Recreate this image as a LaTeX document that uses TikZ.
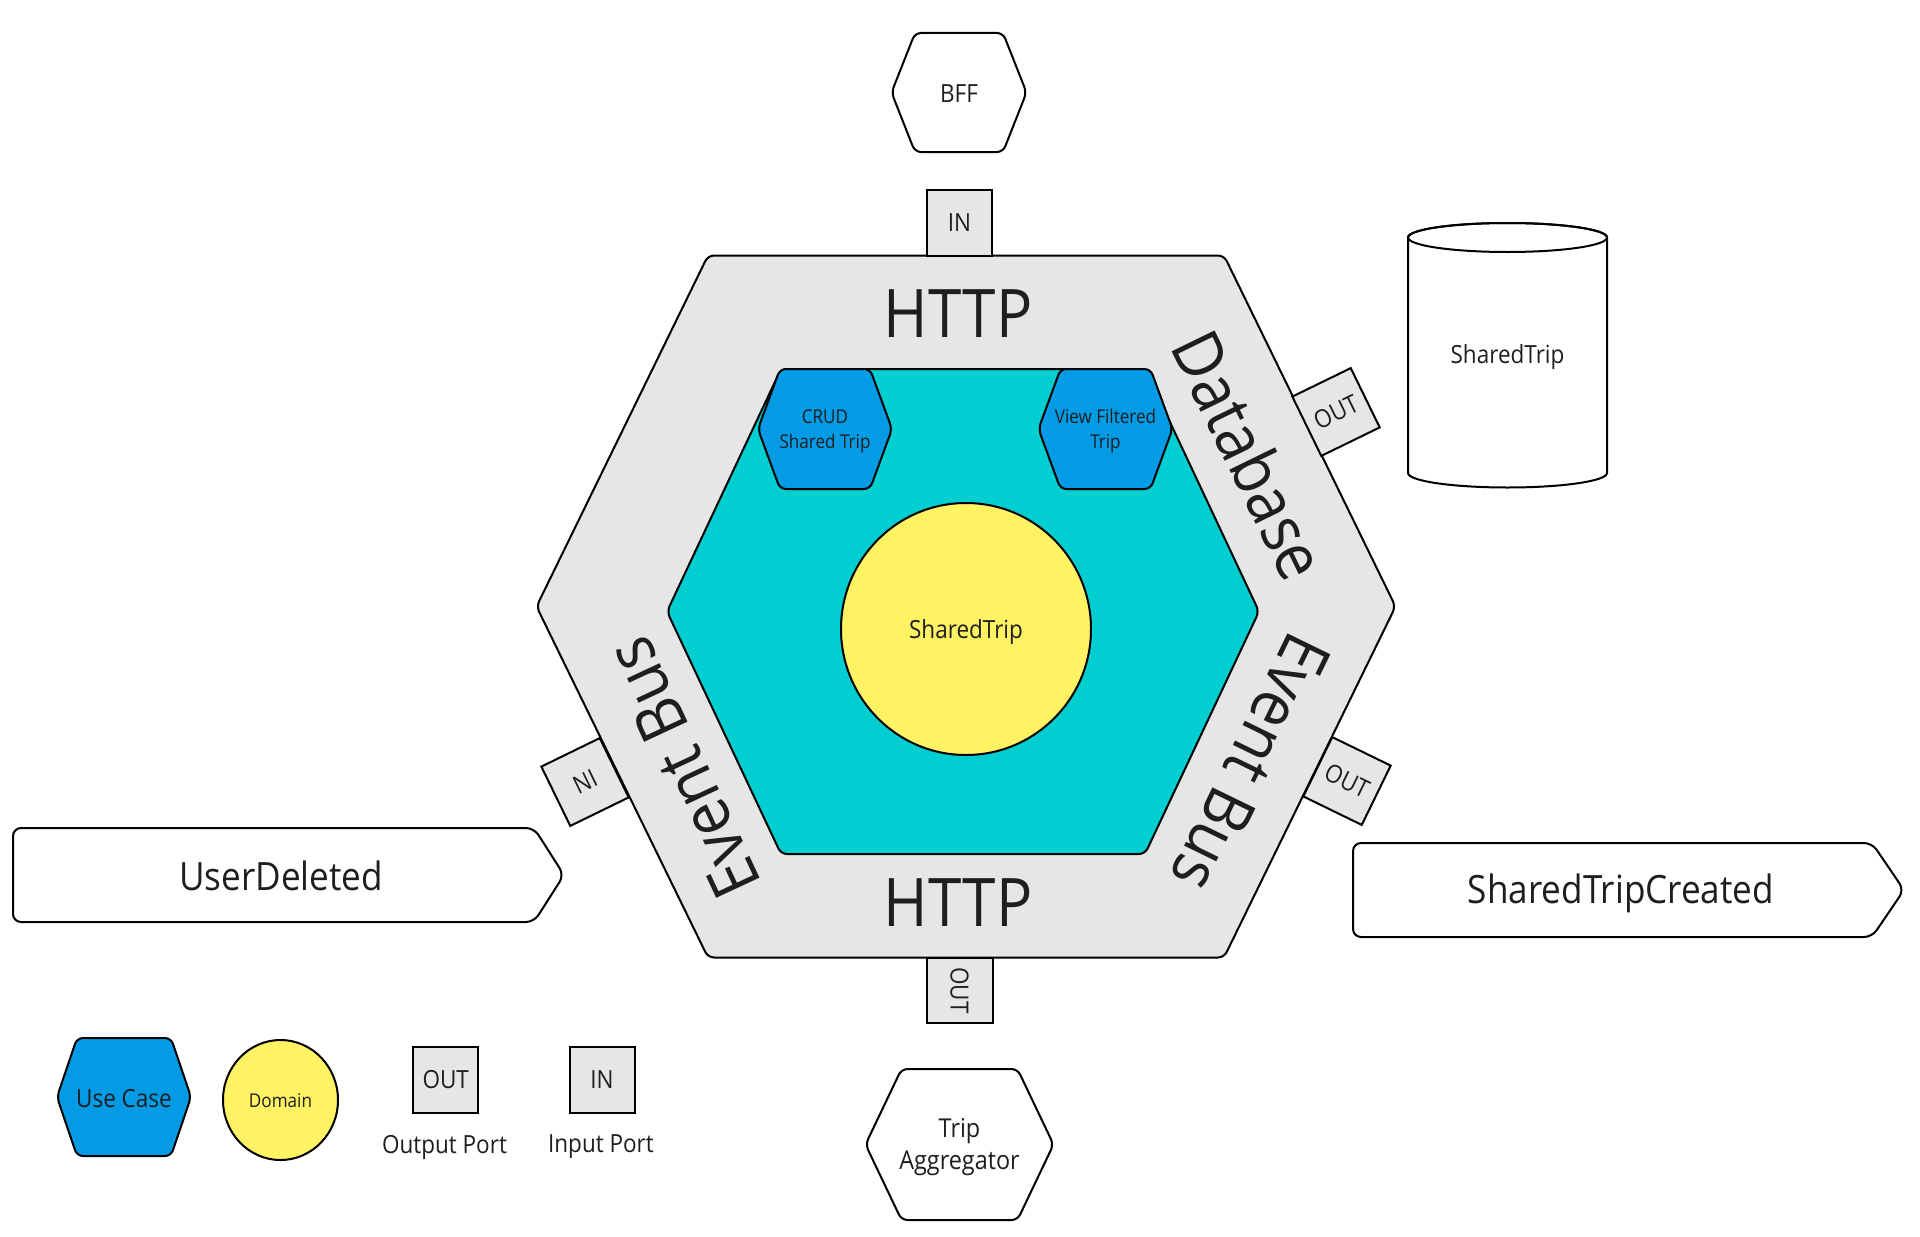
\documentclass[tikz,border=0pt]{standalone}
\usepackage{fontspec}
\setmainfont{Open Sans}[FakeStretch=0.9]
\definecolor{portgray}{HTML}{E6E6E6}
\definecolor{tealc}{HTML}{00CED1}
\definecolor{ucblue}{HTML}{039BE5}
\definecolor{domyellow}{HTML}{FFF263}
\definecolor{txt}{HTML}{1E1E1E}
\newcommand{\hexat}[6]{%
  \path[#1] ({#2-#4},{#3}) -- ({#2-#5},{#3-#6}) -- ({#2+#5},{#3-#6}) -- ({#2+#4},{#3}) -- ({#2+#5},{#3+#6}) -- ({#2-#5},{#3+#6}) -- cycle;}
\tikzset{
  outl/.style={draw=black, line width=1pt, line join=round, rounded corners=3pt},
  port/.style={draw=black, line width=1pt, fill=portgray, minimum width=32.5pt, minimum height=33pt, inner sep=0pt, font=\fontsize{12.5}{15}\selectfont, text=txt},
  big/.style={font=\fontsize{33.5}{40}\selectfont, text=txt, inner sep=0pt},
  evt/.style={font=\fontsize{19.5}{23}\selectfont, text=txt, inner sep=0pt},
  norm/.style={font=\fontsize{12.5}{16}\selectfont, text=txt, inner sep=0pt, align=center},
  small/.style={font=\fontsize{9.5}{12.5}\selectfont, text=txt, inner sep=0pt, align=center},
}
\begin{document}
\begin{tikzpicture}[x=0.5pt, y=-0.5pt]
\useasboundingbox[fill=white] (0,0) rectangle (1920,1236);

% outer hexagon and inner hexagon
\hexat{outl, fill=portgray}{966}{606.5}{429.5}{258}{351}
\hexat{outl, fill=tealc}{963}{611.5}{296}{182}{242.5}

% use cases
\hexat{outl, fill=ucblue}{825}{429}{67}{45}{60}
\hexat{outl, fill=ucblue}{1105.5}{429}{67}{45}{60}
\node[small] (crud) at (825,431) {CRUD\\Shared Trip};
\node[small] (viewf) at (1105.5,431) {View Filtered\\Trip};

% domain
\draw[line width=1pt, fill=domyellow] (966,629) ellipse [x radius=125, y radius=126];
\node[norm] (dom) at (966,632) {SharedTrip};

% layer labels
\node[big] (httpt) at (958,314) {HTTP};
\node[big] (httpb) at (958,903) {HTTP};
\node[big, rotate=-64] (db) at (1250,455) {Database};
\node[big, rotate=-116] (ebr) at (1251,763) {Event Bus};
\node[big, rotate=115] (ebl) at (683,768) {Event Bus};

% ports
\node[port] (pin) at (959.5,223) {IN};
\node[port, rotate=-90] (pout) at (959.5,990.5) {OUT};
\node[port, rotate=26] (pdb) at (1336,412) {OUT};
\node[port, rotate=-26] (pev) at (1347,781) {OUT};
\node[port, rotate=206] (pevin) at (585,782) {IN};

% external actors
\hexat{outl, fill=white}{959}{92.5}{67.5}{44}{59.5}
\node[norm] (bff) at (959,93.5) {BFF};
\hexat{outl, fill=white}{959.5}{1144.5}{94}{58}{75.5}
\node[norm, font=\fontsize{13}{16}\selectfont] (agg) at (959.5,1147) {Trip\\Aggregator};

% database cylinder
\path[draw=black, line width=1pt, fill=white] (1408,237.5) -- (1408,473) arc[start angle=180, end angle=360, x radius=99.5, y radius=-14.5] -- (1607,237.5) arc[start angle=0, end angle=180, x radius=99.5, y radius=-14.5] -- cycle;
\draw[line width=1pt] (1507.5,237.5) ellipse [x radius=99.5, y radius=14.5];
\node[norm] (dbs) at (1507.5,357) {SharedTrip};

% events
\path[draw=black, line width=1pt, rounded corners=4pt, fill=white] (13,828) -- (534,828) -- (564,875) -- (534,922) -- (13,922) -- cycle;
\node[evt] (ud) at (281,876) {UserDeleted};
\path[draw=black, line width=1pt, rounded corners=4pt, fill=white] (1353,843) -- (1872,843) -- (1904,890) -- (1872,937) -- (1353,937) -- cycle;
\node[evt] (stc) at (1621,893) {SharedTripCreated};

% legend
\hexat{outl, fill=ucblue}{124}{1097}{67}{47}{59}
\node[norm] (luc) at (124,1099) {Use Case};
\draw[line width=1pt, fill=domyellow] (280.5,1100) ellipse [x radius=57.5, y radius=60];
\node[small] (ldom) at (280.5,1101) {Domain};
\node[port] (lout) at (445.7,1079.5) {OUT};
\node[norm] (loutl) at (444.5,1147) {Output Port};
\node[port] (lin) at (602,1079.5) {IN};
\node[norm] (linl) at (601,1147) {Input Port};
\end{tikzpicture}
\end{document}
